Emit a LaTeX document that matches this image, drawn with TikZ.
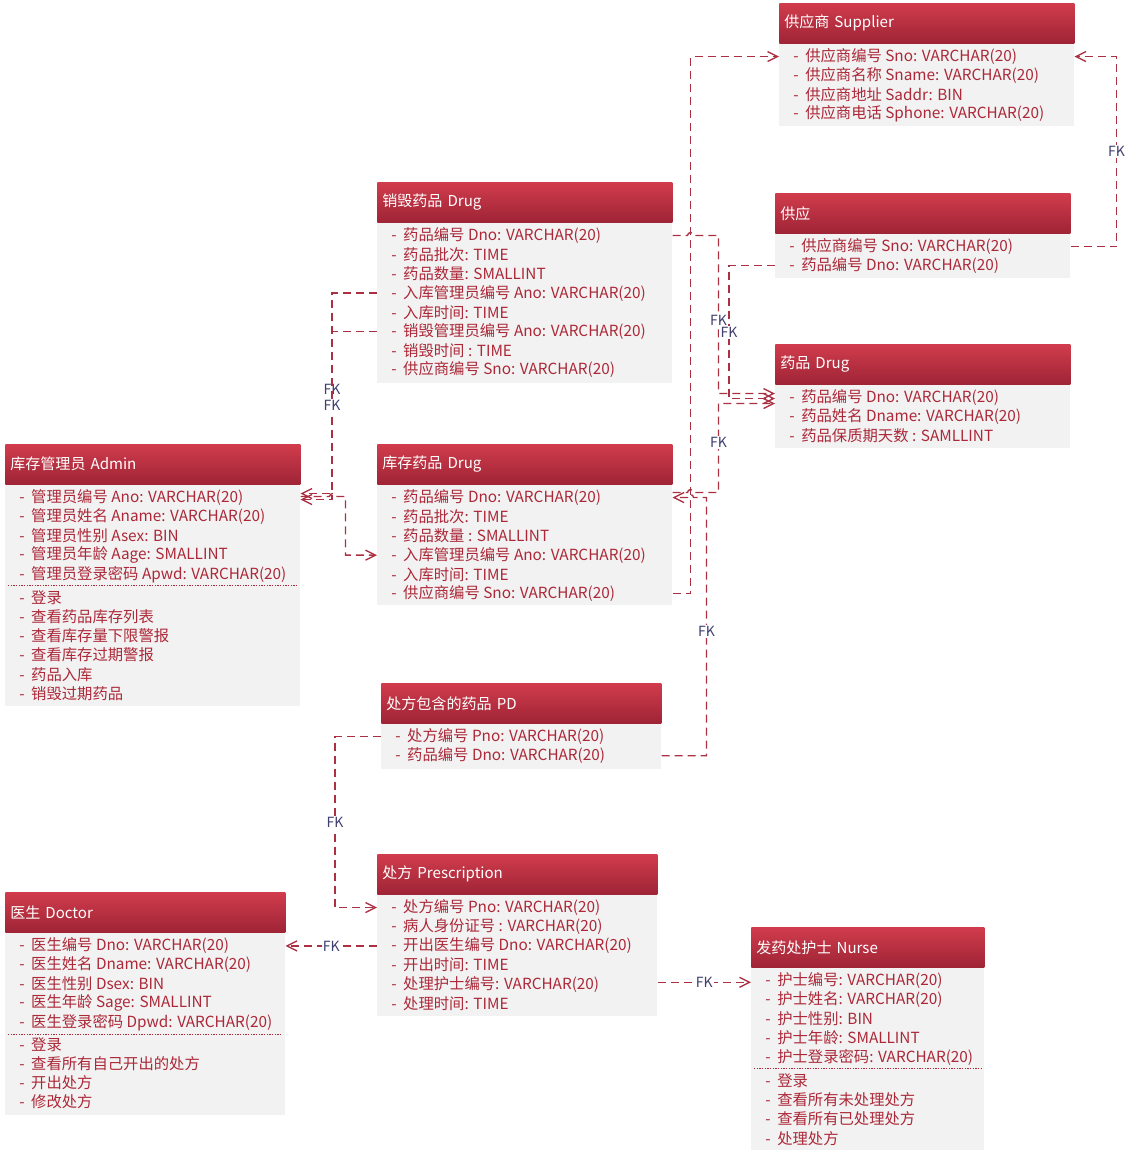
\documentclass[tikz,border=0pt]{standalone}
\usepackage{fontspec}
\setmainfont{Noto Sans CJK SC}
\usetikzlibrary{arrows.meta,calc,positioning}

\definecolor{headtop}{RGB}{209,60,76}
\definecolor{headbot}{RGB}{158,36,54}
\definecolor{bodygray}{RGB}{242,242,242}
\definecolor{rowred}{RGB}{172,40,56}
\definecolor{linered}{RGB}{170,48,66}
\definecolor{fkblue}{RGB}{62,62,112}

\begin{document}
\begin{tikzpicture}[
    x=0.75pt, y=-0.75pt, % one unit = one pixel, y downwards
    >={Straight Barb[length=7.5pt,width=7.5pt]},
    head/.style={
        rectangle, anchor=north west, top color=headtop, bottom color=headbot,
        text=white, font=\fontsize{11.3}{13}\selectfont, align=left,
        text width=#1, inner xsep=3.75pt, minimum height=30pt
    },
    body/.style={rectangle, anchor=north west, fill=bodygray, inner sep=0pt},
    row/.style={anchor=west, inner sep=0pt, text=rowred, font=\fontsize{11.5}{13}\selectfont},
    % Connectors and their labels
    fk/.style={draw=linered, line width=1pt, dash pattern=on 6pt off 3.75pt},
    fklab/.style={fill=white, inner sep=1pt, text=fkblue, font=\fontsize{10.5}{12}\selectfont},
    sep/.style={draw=rowred, line width=0.7pt, dash pattern=on 1pt off 1pt}
]
    \useasboundingbox (0,0) rectangle (1133,1156);

    % --- Supplier side (top right) ---
    \node[head=213.75pt] (Supplier) at (779,3) {供应商 Supplier};
    \node[body, minimum width=221.25pt, minimum height=61.5pt] (Supplier-body) at (Supplier.south west) {};
    \foreach \t [count=\i] in {{供应商编号 Sno: VARCHAR(20)}, {供应商名称 Sname: VARCHAR(20)},
        {供应商地址 Saddr: BIN}, {供应商电话 Sphone: VARCHAR(20)}}
        \node[row] (Supplier-\i) at ($(Supplier-body.north west)+(14,13+19.2*\i-19.2)$) {-\hspace{5pt}\t};

    \node[head=213.75pt] (Supply) at (775,193) {供应};
    \node[body, minimum width=221.25pt, minimum height=33pt] (Supply-body) at (Supply.south west) {};
    \foreach \t [count=\i] in {{供应商编号 Sno: VARCHAR(20)}, {药品编号 Dno: VARCHAR(20)}}
        \node[row] (Supply-\i) at ($(Supply-body.north west)+(14,13+19.2*\i-19.2)$) {-\hspace{5pt}\t};

    \node[head=213.75pt] (Drug) at (775,344) {药品 Drug};
    \node[body, minimum width=221.25pt, minimum height=47.25pt] (Drug-body) at (Drug.south west) {};
    \foreach \t [count=\i] in {{药品编号 Dno: VARCHAR(20)}, {药品姓名 Dname: VARCHAR(20)},
        {药品保质期天数 : SAMLLINT}}
        \node[row] (Drug-\i) at ($(Drug-body.north west)+(14,13+19.2*\i-19.2)$) {-\hspace{5pt}\t};

    % --- Drug tables (middle column) ---
    \node[head=213.75pt] (Destroy) at (377,182) {销毁药品 Drug};
    \node[body, minimum width=221.25pt, minimum height=120pt] (Destroy-body) at (Destroy.south west) {};
    \foreach \t [count=\i] in {{药品编号 Dno: VARCHAR(20)}, {药品批次: TIME}, {药品数量: SMALLINT},
        {入库管理员编号 Ano: VARCHAR(20)}, {入库时间: TIME}, {销毁管理员编号 Ano: VARCHAR(20)},
        {销毁时间 : TIME}, {供应商编号 Sno: VARCHAR(20)}}
        \node[row] (Destroy-\i) at ($(Destroy-body.north west)+(14,13+19.2*\i-19.2)$) {-\hspace{5pt}\t};

    \node[head=213.75pt] (Stock) at (377,444) {库存药品 Drug};
    \node[body, minimum width=221.25pt, minimum height=90pt] (Stock-body) at (Stock.south west) {};
    \foreach \t [count=\i] in {{药品编号 Dno: VARCHAR(20)}, {药品批次: TIME}, {药品数量 : SMALLINT},
        {入库管理员编号 Ano: VARCHAR(20)}, {入库时间: TIME}, {供应商编号 Sno: VARCHAR(20)}}
        \node[row] (Stock-\i) at ($(Stock-body.north west)+(14,13+19.2*\i-19.2)$) {-\hspace{5pt}\t};

    % --- Admin (left) ---
    \node[head=213.75pt] (Admin) at (5,444) {库存管理员 Admin};
    \node[body, minimum width=221.25pt, minimum height=165.75pt] (Admin-body) at (Admin.south west) {};
    \foreach \t [count=\i] in {{管理员编号 Ano: VARCHAR(20)}, {管理员姓名 Aname: VARCHAR(20)},
        {管理员性别 Asex: BIN}, {管理员年龄 Aage: SMALLINT}, {管理员登录密码 Apwd: VARCHAR(20)}}
        \node[row] (Admin-\i) at ($(Admin-body.north west)+(14,13+19.2*\i-19.2)$) {-\hspace{5pt}\t};
    \draw[sep] ($(Admin-body.north west)+(3,101)$) -- ($(Admin-body.north east)+(-3,101)$);
    \foreach \t [count=\i from 6] in {登录, 查看药品库存列表, 查看库存量下限警报, 查看库存过期警报,
        药品入库, 销毁过期药品}
        \node[row] (Admin-\i) at ($(Admin-body.north west)+(14,113+19.2*\i-115.2)$) {-\hspace{5pt}\t};

    % --- Prescriptions ---
    \node[head=202.5pt] (PD) at (381,683) {处方包含的药品 PD};
    \node[body, minimum width=210pt, minimum height=33.75pt] (PD-body) at (PD.south west) {};
    \foreach \t [count=\i] in {{处方编号 Pno: VARCHAR(20)}, {药品编号 Dno: VARCHAR(20)}}
        \node[row] (PD-\i) at ($(PD-body.north west)+(14,13+19.2*\i-19.2)$) {-\hspace{5pt}\t};

    \node[head=202.5pt] (Presc) at (377,854) {处方 Prescription};
    \node[body, minimum width=210pt, minimum height=90.75pt] (Presc-body) at (Presc.south west) {};
    \foreach \t [count=\i] in {{处方编号 Pno: VARCHAR(20)}, {病人身份证号 : VARCHAR(20)},
        {开出医生编号 Dno: VARCHAR(20)}, {开出时间: TIME}, {处理护士编号: VARCHAR(20)}, {处理时间: TIME}}
        \node[row] (Presc-\i) at ($(Presc-body.north west)+(14,13+19.2*\i-19.2)$) {-\hspace{5pt}\t};

    % --- Doctor (bottom left) ---
    \node[head=202.5pt] (Doctor) at (5,892) {医生 Doctor};
    \node[body, minimum width=210pt, minimum height=136.5pt] (Doctor-body) at (Doctor.south west) {};
    \foreach \t [count=\i] in {{医生编号 Dno: VARCHAR(20)}, {医生姓名 Dname: VARCHAR(20)},
        {医生性别 Dsex: BIN}, {医生年龄 Sage: SMALLINT}, {医生登录密码 Dpwd: VARCHAR(20)}}
        \node[row] (Doctor-\i) at ($(Doctor-body.north west)+(14,13+19.2*\i-19.2)$) {-\hspace{5pt}\t};
    \draw[sep] ($(Doctor-body.north west)+(3,102)$) -- ($(Doctor-body.north east)+(-3,102)$);
    \foreach \t [count=\i from 6] in {登录, 查看所有自己开出的处方, 开出处方, 修改处方}
        \node[row] (Doctor-\i) at ($(Doctor-body.north west)+(14,112+19.2*\i-115.2)$) {-\hspace{5pt}\t};

    % --- Nurse (bottom right) ---
    \node[head=167.25pt] (Nurse) at (751,927) {发药处护士 Nurse};
    \node[body, minimum width=174.75pt, minimum height=136.5pt] (Nurse-body) at (Nurse.south west) {};
    \foreach \t [count=\i] in {{护士编号: VARCHAR(20)}, {护士姓名: VARCHAR(20)}, {护士性别: BIN},
        {护士年龄: SMALLINT}, {护士登录密码: VARCHAR(20)}}
        \node[row] (Nurse-\i) at ($(Nurse-body.north west)+(14,13+19.2*\i-19.2)$) {-\hspace{5pt}\t};
    \draw[sep] ($(Nurse-body.north west)+(3,101)$) -- ($(Nurse-body.north east)+(-3,101)$);
    \foreach \t [count=\i from 6] in {登录, 查看所有未处理处方, 查看所有已处理处方, 处理处方}
        \node[row] (Nurse-\i) at ($(Nurse-body.north west)+(14,113+19.2*\i-115.2)$) {-\hspace{5pt}\t};


    % --- EDGES (dashed FK arrows) ---

    % Destroyed drugs -> Admin
    \draw[fk,->] (Destroy-body.west |- Destroy-4) -- ++(-45,0)
        |- node[fklab,pos=0.24]{FK} ($(Admin-body.east |- Admin-1)+(0,-4)$);
    \draw[fk,->] (Destroy-body.west |- Destroy-6) -- ++(-45,0)
        |- node[fklab,pos=0.22]{FK} ($(Admin-body.east |- Admin-1)+(0,2)$);
    % Admin -> stock (hops over the line above)
    \draw[fk,->] ($(Admin-body.east |- Admin-1)+(0,-1)$) -- ++(29,0)
        arc[start angle=180,end angle=360,radius=3] -- ++(10,0) |- (Stock-body.west |- Stock-4);

    % Stock supplier -> Supplier
    \draw[fk,->] (Stock-body.east |- Stock-6) -- ++(18,0) |- (Supplier-body.west |- Supplier-1);
    % Supply -> Supplier
    \draw[fk,->] (Supply-body.east |- Supply-1) -- ++(46,0)
        |- node[fklab,pos=0.25]{FK} (Supplier-body.east |- Supplier-1);

    % Drug number references -> Drug
    \draw[fk,->] (Destroy-body.east |- Destroy-1) -- ++(15,0)
        arc[start angle=180,end angle=360,radius=3] -- ++(25,0)
        |- node[fklab,pos=0.27]{FK} ($(Drug-body.west |- Drug-1)+(0,-4)$);
    \draw[fk,->] (Supply-body.west |- Supply-2) -- ++(-46,0)
        |- node[fklab,pos=0.25]{FK} ($(Drug-body.west |- Drug-1)+(0,1)$);
    \draw[fk,->] ($(Stock-body.east |- Stock-1)+(0,-5)$) -- ++(15,0)
        arc[start angle=180,end angle=360,radius=3] -- ++(25,0)
        |- node[fklab,pos=0.28]{FK} ($(Drug-body.west |- Drug-1)+(0,6)$);

    % PD -> stock
    \draw[fk,->] (PD-body.east |- PD-2) -- ++(45,0)
        -- node[fklab,pos=0.48]{FK} ($(Stock-body.east |- Stock-1)+(34,0)$) -- ++(-13,0)
        arc[start angle=0,end angle=-180,radius=3] -- (Stock-body.east |- Stock-1);
    % PD -> Prescription
    \draw[fk,->] (PD-body.west |- PD-1) -- ++(-46,0)
        |- node[fklab,pos=0.25]{FK} (Presc-body.west |- Presc-1);

    % Prescription -> Doctor, Nurse
    \draw[fk,->] (Presc-body.west |- Presc-3) -- node[fklab]{FK} (Doctor-body.east |- Presc-3);
    \draw[fk,->] ($(Presc-body.east |- Presc-5)+(0,-2)$) -- node[fklab]{FK} ($(Nurse-body.west |- Presc-5)+(0,-2)$);

\end{tikzpicture}
\end{document}
